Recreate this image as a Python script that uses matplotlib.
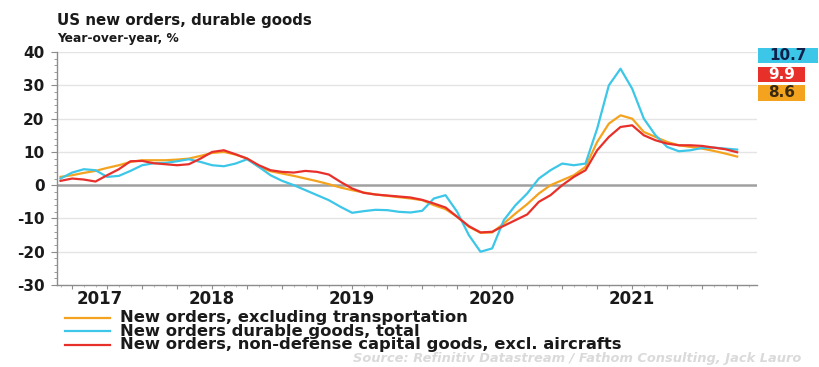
"""US durable goods new orders, year-over-year growth."""

import matplotlib

matplotlib.use("Agg")

import matplotlib.pyplot as plt
import matplotlib.transforms as mtransforms
from matplotlib.lines import Line2D
from matplotlib.ticker import MultipleLocator

plt.rcParams["font.family"] = ["DejaVu Sans"]
plt.rcParams["font.weight"] = "bold"
plt.rcParams["axes.unicode_minus"] = False

# months counted from Jan 2017 (0 = Jan 2017); series runs Jun 2017 .. Apr 2022
start_month = 5
ex_transport = [
    2.5, 3.0, 3.7, 4.3, 5.2, 6.0, 7.0, 7.5, 7.5, 7.5,
    7.7, 8.0, 8.8, 9.7, 10.0, 9.2, 8.0, 5.5, 4.2, 3.5,
    2.8, 2.0, 1.2, 0.3, -0.7, -1.5, -2.2, -2.8, -3.2, -3.6,
    -4.0, -4.5, -6.0, -7.2, -9.5, -12.5, -14.3, -14.2, -11.5, -8.5,
    -5.7, -2.5, 0.0, 1.5, 3.0, 5.5, 13.0, 18.5, 21.0, 20.0,
    16.0, 14.5, 13.0, 12.0, 11.5, 11.0, 10.3, 9.5, 8.6,
]
durable_total = [
    2.0, 3.8, 4.8, 4.5, 2.5, 2.8, 4.3, 6.0, 6.6, 6.7,
    7.2, 7.8, 7.0, 6.0, 5.7, 6.5, 7.8, 5.5, 3.0, 1.3,
    0.0, -1.5, -3.0, -4.5, -6.5, -8.3, -7.8, -7.4, -7.5, -8.0,
    -8.2, -7.7, -4.0, -3.0, -8.0, -15.0, -20.0, -19.0, -10.5, -6.0,
    -2.5, 2.0, 4.5, 6.5, 6.0, 6.5, 17.0, 30.0, 35.0, 29.0,
    20.0, 15.0, 11.5, 10.2, 10.5, 11.2, 11.3, 11.0, 10.7,
]
capex_ex_air = [
    1.3, 2.0, 1.7, 1.1, 3.0, 4.8, 7.2, 7.3, 6.6, 6.3,
    6.0, 6.3, 8.0, 10.0, 10.5, 9.3, 8.0, 6.0, 4.5, 4.0,
    3.8, 4.3, 4.0, 3.2, 1.0, -1.0, -2.3, -2.8, -3.1, -3.4,
    -3.7, -4.4, -5.5, -6.7, -9.5, -12.3, -14.2, -14.0, -12.2, -10.5,
    -8.8, -5.0, -3.0, 0.0, 2.5, 4.5, 10.5, 14.5, 17.5, 18.0,
    15.0, 13.5, 12.5, 12.0, 12.0, 11.8, 11.3, 10.8, 9.9,
]
year_labels = ["2017", "2018", "2019", "2020", "2021"]
year_centers = [8.35, 18, 30, 42, 54]
series_names = [
    "New orders, excluding transportation",
    "New orders durable goods, total",
    "New orders, non-defense capital goods, excl. aircrafts",
]

ORANGE = "#f4a31f"
CYAN = "#3cc6e8"
RED = "#e8302a"

months = list(range(start_month, start_month + len(durable_total)))

fig = plt.figure(figsize=(8.19, 3.67), dpi=100)
ax = fig.add_axes([0.0696, 0.2234, 0.8547, 0.6346])

for v in (10, 20, 30, 40, -10, -20):
    ax.axhline(v, color="#e4e4e4", linewidth=1.0, zorder=1)
ax.axhline(0, color="#a0a0a0", linewidth=1.8, zorder=2)

ax.plot(months, ex_transport, color=ORANGE, linewidth=1.6, zorder=3)
ax.plot(months, durable_total, color=CYAN, linewidth=1.6, zorder=4)
ax.plot(months, capex_ex_air, color=RED, linewidth=1.6, zorder=5)

ax.set_xlim(4.7, 64.7)
ax.set_ylim(-30, 40)
for side in ("top", "right"):
    ax.spines[side].set_visible(False)
for side in ("left", "bottom"):
    ax.spines[side].set_color("#8c8c8c")
    ax.spines[side].set_linewidth(1.0)

ax.yaxis.set_major_locator(MultipleLocator(10))
ax.yaxis.set_minor_locator(MultipleLocator(2))
ax.tick_params(axis="y", which="major", length=4, color="#8c8c8c", labelsize=11, pad=5)
ax.tick_params(axis="y", which="minor", length=2, color="#8c8c8c")
ax.xaxis.set_major_locator(MultipleLocator(3))
ax.xaxis.set_minor_locator(MultipleLocator(1))
ax.tick_params(axis="x", which="major", length=3, color="#8c8c8c", labelbottom=False)
ax.tick_params(axis="x", which="minor", length=1.5, color="#b0b0b0")
for lab in ax.get_yticklabels():
    lab.set_fontweight("bold")
    lab.set_color("#1a1a1a")

trans = mtransforms.blended_transform_factory(ax.transData, ax.transAxes)
for label, xc in zip(year_labels, year_centers):
    ax.text(xc, -0.06, label, transform=trans, ha="center", va="center",
            fontsize=12, fontweight="bold", color="#1a1a1a")

# end-of-series value boxes
end_labels = [
    (f"{durable_total[-1]:.1f}", 0.848, CYAN, "#10204a", 0.0736),
    (f"{capex_ex_air[-1]:.1f}", 0.797, RED, "white", 0.0574),
    (f"{ex_transport[-1]:.1f}", 0.747, ORANGE, "#3a2a10", 0.0574),
]
for text, yc, face, tc, w in end_labels:
    fig.patches.append(plt.Rectangle((0.9255, yc - 0.021), w, 0.042,
                                     transform=fig.transFigure, facecolor=face,
                                     edgecolor="none"))
    fig.text(0.9255 + w / 2, yc, text, ha="center", va="center",
             fontsize=11, fontweight="bold", color=tc)

fig.text(0.0696, 0.945, "US new orders, durable goods", fontsize=10.8,
         fontweight="bold", color="#1a1a1a", va="center")
fig.text(0.0696, 0.896, "Year-over-year, %", fontsize=8.8,
         fontweight="bold", color="#1a1a1a", va="center")

# legend drawn by hand so the rows sit as tightly as in the original layout
legend_colors = [ORANGE, CYAN, RED]
row_y = [0.134, 0.097, 0.060]
for name, color, yy in zip(series_names, legend_colors, row_y):
    fig.add_artist(Line2D([0.0794, 0.1343], [yy, yy], color=color, linewidth=1.6,
                          transform=fig.transFigure))
    fig.text(0.1465, yy, name, ha="left", va="center", fontsize=11.8,
             fontweight="bold", color="#1a1a1a")

fig.text(0.978, 0.022, "Source: Refinitiv Datastream / Fathom Consulting, Jack Lauro",
         ha="right", va="center", fontsize=9.4, style="italic", color="#dadada")

fig.savefig("out.png", dpi=100)
